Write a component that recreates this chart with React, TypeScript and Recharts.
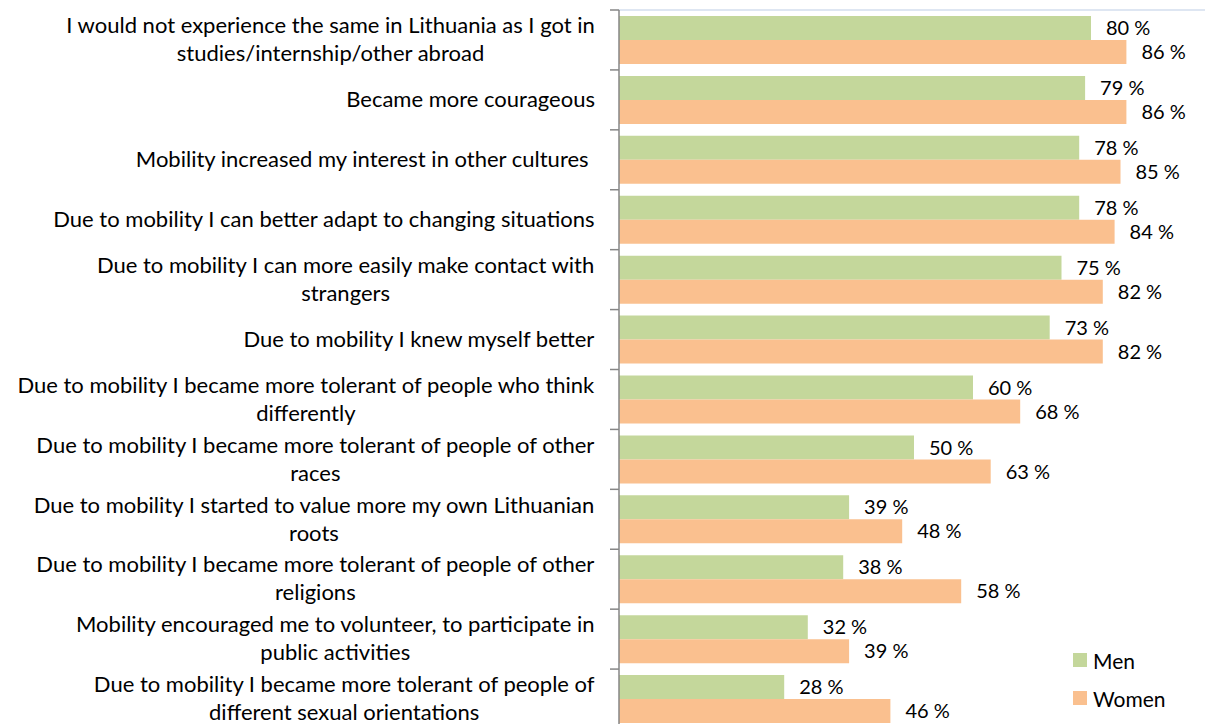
import React from "react";
import { BarChart, Bar, XAxis, YAxis, Legend, LabelList } from "recharts";

// kategorijos (eilutės laužiamos kaip originale)
const categories = [
  "I would not experience the same in Lithuania as I got in\nstudies/internship/other abroad",
  "Became more courageous",
  "Mobility increased my interest in other cultures ",
  "Due to mobility I can better adapt to changing situations",
  "Due to mobility I can more easily make contact with\nstrangers",
  "Due to mobility I knew myself better",
  "Due to mobility I became more tolerant of people who think\ndifferently",
  "Due to mobility I became more tolerant of people of other\nraces",
  "Due to mobility I started to value more my own Lithuanian\nroots",
  "Due to mobility I became more tolerant of people of other\nreligions",
  "Mobility encouraged me to volunteer, to participate in\npublic activities",
  "Due to mobility I became more tolerant of people of\ndifferent sexual orientations",
];
const men = [80, 79, 78, 78, 75, 73, 60, 50, 39, 38, 32, 28];
const women = [86, 86, 85, 84, 82, 82, 68, 63, 48, 58, 39, 46];

const data = categories.map((label, i) => ({ label, men: men[i], women: women[i] }));

const FONT = "Lato, 'Open Sans', sans-serif";
const FS = 22; // kategorijų šriftas
const LFS = 20; // reikšmių etiketės
const AXIS = "#868686";

let ctx: CanvasRenderingContext2D | null = null;
const measure = (s: string) => {
  if (!ctx) ctx = document.createElement("canvas").getContext("2d");
  if (!ctx) return s.length * FS * 0.5;
  ctx.font = `${FS}px Lato`;
  return ctx.measureText(s).width;
};

// tekstas centruotas, blokas lygiuotas dešinėn; brūkšneliai ties kategorijų ribom
const CategoryTick = (props: any) => {
  const { x, y, payload } = props;
  const half = payload.offset || 30;
  const lines = String(payload.value).split("\n");
  const maxW = Math.max(...lines.map(measure));
  const cx = x - 24 - maxW / 2;
  const lh = 28;
  return (
    <g>
      <line x1={x - 9} x2={x} y1={y - half} y2={y - half} stroke={AXIS} strokeWidth={1.5} />
      <text textAnchor="middle" fontFamily={FONT} fontSize={FS} fill="#000" style={{ whiteSpace: "pre" }}>
        {lines.map((l, i) => (
          <tspan key={i} x={cx} y={y + (i - (lines.length - 1) / 2) * lh + FS * 0.33}>
            {l}
          </tspan>
        ))}
      </text>
    </g>
  );
};

const LegendBox = (props: any) => (
  <div>
    {(props.payload || []).map((p: any) => (
      <div
        key={p.value}
        style={{ display: "flex", alignItems: "center", height: 38, fontFamily: FONT, fontSize: 21, color: "#000" }}
      >
        <span style={{ width: 14, height: 14, background: p.color, marginRight: 6, display: "inline-block" }} />
        {p.value}
      </div>
    ))}
  </div>
);

const fmt = (v: any) => `${v} %`;

export default function App() {
  return (
    <div style={{ position: "absolute", left: 0, top: 0, width: 1205, height: 724, overflow: "hidden", background: "#fff" }}>
      <BarChart
        width={1209}
        height={740}
        data={data}
        layout="vertical"
        margin={{ top: 9, right: 0, bottom: 11, left: 0 }}
        barCategoryGap="10%"
        barGap={0}
      >
        <XAxis type="number" domain={[0, 100]} hide />
        {/* plona viršutinė ploto riba */}
        <XAxis
          xAxisId="top"
          type="number"
          domain={[0, 100]}
          orientation="top"
          height={1}
          tick={false}
          tickLine={false}
          axisLine={{ stroke: "#d3deee", strokeWidth: 1.5 }}
        />
        <YAxis
          type="category"
          dataKey="label"
          width={619}
          interval={0}
          axisLine={{ stroke: AXIS, strokeWidth: 1.5 }}
          tickLine={false}
          tickSize={0}
          tickMargin={0}
          tick={<CategoryTick />}
        />
        <Legend
          layout="vertical"
          align="center"
          verticalAlign="middle"
          wrapperStyle={{ left: 1073, top: 641, width: 130 }}
          content={<LegendBox />}
        />
        <Bar dataKey="men" name="Men" fill="#c4d79b" isAnimationActive={false}>
          <LabelList dataKey="men" position="right" offset={15} formatter={fmt} fontFamily={FONT} fontSize={LFS} fill="#000" />
        </Bar>
        <Bar dataKey="women" name="Women" fill="#fac08f" isAnimationActive={false}>
          <LabelList dataKey="women" position="right" offset={15} formatter={fmt} fontFamily={FONT} fontSize={LFS} fill="#000" />
        </Bar>
      </BarChart>
    </div>
  );
}
